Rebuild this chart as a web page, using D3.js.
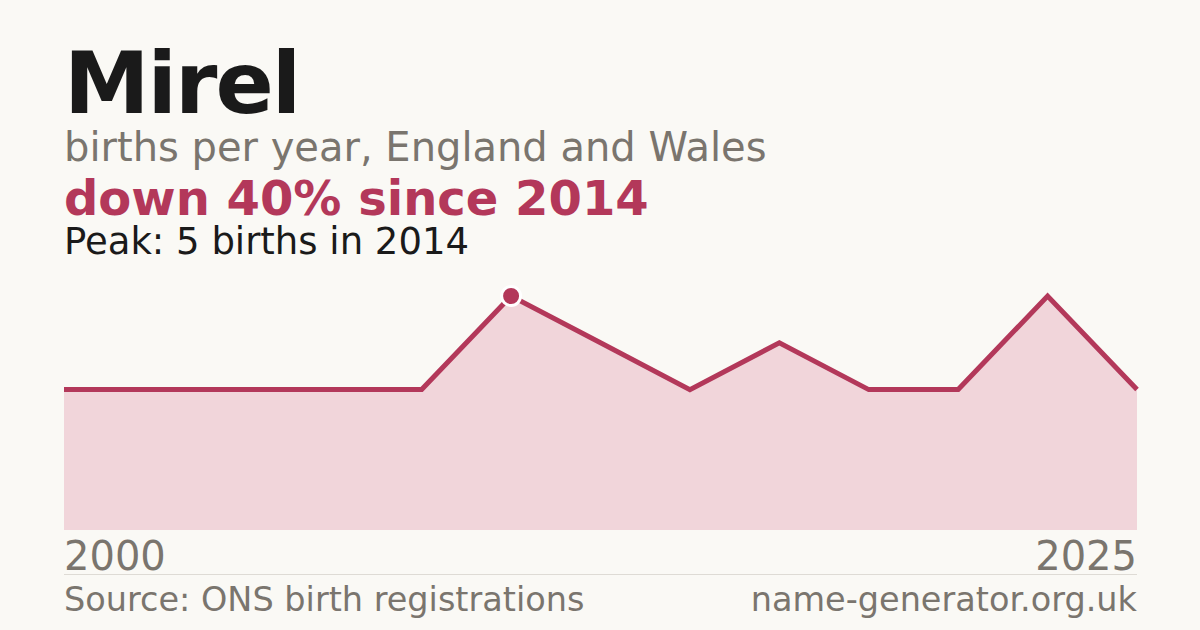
<!DOCTYPE html>
<html>
<head>
<meta charset="utf-8">
<script src="https://cdn.jsdelivr.net/npm/d3@7"></script>
<style>
	body { margin: 0; background: #faf9f5; }
	svg { display: block; font-family: 'DejaVu Sans', sans-serif; }
</style>
</head>
<body>
<div id="chart"></div>
<script>
const width = 1200;
const height = 630;

// births per year for the name, one entry per recorded year
const years = [2009, 2010, 2011, 2012, 2013, 2014, 2015, 2016, 2017, 2018, 2019, 2020, 2021];
const births = [3, 3, 3, 3, 3, 5, 4, 3, 4, 3, 3, 5, 3];
const axisLabels = ['2000', '2025'];

const peakValue = d3.max(births);
const peakYear = years[births.indexOf(peakValue)];
const lastValue = births[births.length - 1];
const change = Math.round((1 - lastValue / peakValue) * 100);

const red = '#b3385a';
const grey = '#7a756e';

const svg = d3.select('#chart').append('svg').attr('width', width).attr('height', height);

svg.append('rect').attr('width', width).attr('height', height).attr('fill', '#faf9f5');

// HEADER =================================================================
svg.append('text')
	.attr('x', 64)
	.attr('y', 113)
	.attr('fill', '#1a1a1a')
	.style('font-size', '86px')
	.style('font-weight', 'bold')
	.style('letter-spacing', '-2px')
	.text('Mirel');

svg.append('text')
	.attr('x', 64)
	.attr('y', 161)
	.attr('fill', grey)
	.style('font-size', '40px')
	.text('births per year, England and Wales');

svg.append('text')
	.attr('x', 64)
	.attr('y', 215)
	.attr('fill', red)
	.style('font-size', '48px')
	.style('font-weight', 'bold')
	.text(`down ${change}% since ${peakYear}`);

svg.append('text')
	.attr('x', 64)
	.attr('y', 254)
	.attr('fill', '#1a1a1a')
	.style('font-size', '37px')
	.text(`Peak: ${peakValue} births in ${peakYear}`);
//================================================================

// CHART =================================================================
const x = d3.scalePoint().domain(years).range([64, 1137]);
const y = d3.scaleLinear().domain([0, peakValue]).range([530, 296]);

const area = d3
	.area()
	.x((d, i) => x(years[i]))
	.y0(y(0))
	.y1((d) => y(d));

const line = d3
	.line()
	.x((d, i) => x(years[i]))
	.y((d) => y(d));

svg.append('path').datum(births).attr('d', area).attr('fill', '#f1d5da');

svg.append('path')
	.datum(births)
	.attr('d', line)
	.attr('fill', 'none')
	.attr('stroke', red)
	.attr('stroke-width', 5)
	.attr('stroke-linejoin', 'miter');

svg.append('circle')
	.attr('cx', x(peakYear))
	.attr('cy', y(peakValue))
	.attr('r', 9.5)
	.attr('fill', red)
	.attr('stroke', '#fff')
	.attr('stroke-width', 3);

// first / last labels
svg.selectAll('.year')
	.data(axisLabels)
	.join('text')
	.attr('class', 'year')
	.attr('x', (d, i) => (i === 0 ? 64 : 1137))
	.attr('y', 570)
	.attr('text-anchor', (d, i) => (i === 0 ? 'start' : 'end'))
	.attr('fill', grey)
	.style('font-size', '40px')
	.text((d) => d);
//================================================================

// FOOTER =================================================================
svg.append('line')
	.attr('x1', 64)
	.attr('x2', 1137)
	.attr('y1', 574.5)
	.attr('y2', 574.5)
	.attr('stroke', '#dedbd5')
	.attr('stroke-width', 1);

svg.append('text')
	.attr('x', 64)
	.attr('y', 611)
	.attr('fill', grey)
	.style('font-size', '33.5px')
	.text('Source: ONS birth registrations');

svg.append('text')
	.attr('x', 1137)
	.attr('y', 611)
	.attr('text-anchor', 'end')
	.attr('fill', grey)
	.style('font-size', '33.5px')
	.text('name-generator.org.uk');
//================================================================
</script>
</body>
</html>
